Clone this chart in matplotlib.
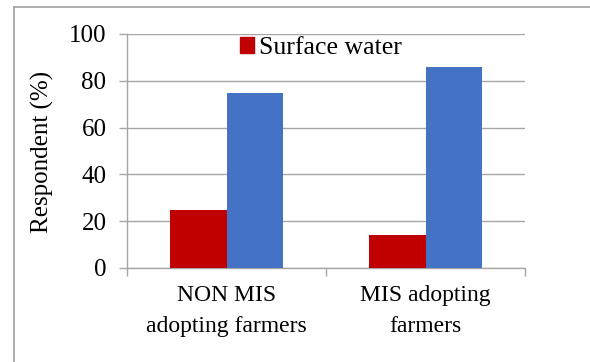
import matplotlib
matplotlib.use("Agg")
import matplotlib.pyplot as plt
from matplotlib.lines import Line2D
from matplotlib.patches import Patch
import numpy as np

categories = ["NON MIS\nadopting farmers", "MIS adopting\nfarmers"]
surface_water = [25, 14]
ground_water = [75, 86]
y_ticks = [0, 20, 40, 60, 80, 100]

plt.rcParams["font.family"] = "serif"
plt.rcParams["font.serif"] = ["Liberation Serif", "DejaVu Serif"]

fig = plt.figure(figsize=(5.9, 3.62), dpi=100)
ax = fig.add_axes([127 / 590, 1 - 268 / 362, 398 / 590, 234 / 362])

x = np.arange(len(categories))
w = 0.285
ax.bar(x - w / 2, surface_water, w, color="#c00000", zorder=3)
ax.bar(x + w / 2, ground_water, w, color="#4472c4", zorder=3)

ax.set_xlim(-0.5, 1.5)
ax.set_ylim(0, 100)
ax.set_yticks(y_ticks)
ax.set_yticklabels([str(v) for v in y_ticks], fontsize=18)
ax.yaxis.grid(True, color="#a6a6a6", linewidth=1.0, zorder=0)
ax.set_axisbelow(True)

ax.set_xticks([-0.5, 0.5, 1.5])
ax.set_xticklabels([])
ax.set_xticks(x, minor=True)
ax.set_xticklabels(categories, minor=True, fontsize=17, linespacing=1.65)
ax.tick_params(axis="x", which="minor", length=0, pad=12)
ax.tick_params(axis="x", which="major", length=5.8, color="#a6a6a6", width=1.0)
ax.tick_params(axis="y", length=5.8, color="#a6a6a6", width=1.0, pad=9)

for s in ["top", "right"]:
    ax.spines[s].set_visible(False)
for s in ["left", "bottom"]:
    ax.spines[s].set_color("#a6a6a6")
    ax.spines[s].set_linewidth(1.0)

fig.text(42 / 590, 1 - 152 / 362, "Respondent (%)", rotation=90,
         fontsize=18, ha="center", va="center")

ax.legend(handles=[Patch(color="#c00000", label="Surface water")],
          loc="center", bbox_to_anchor=((321 - 127) / 398, (268 - 48) / 234),
          frameon=False, fontsize=18.5, handlelength=0.55, handleheight=0.55,
          handletextpad=0.2, borderpad=0)

# outer chart border (only left and top visible)
fig.add_artist(Line2D([14 / 590, 14 / 590], [0, 1 - 7 / 362],
                      transform=fig.transFigure, color="#a0a0a0", lw=1.2))
fig.add_artist(Line2D([14 / 590, 1], [1 - 7 / 362, 1 - 7 / 362],
                      transform=fig.transFigure, color="#a0a0a0", lw=1.2))

fig.savefig("out.png", dpi=100)
